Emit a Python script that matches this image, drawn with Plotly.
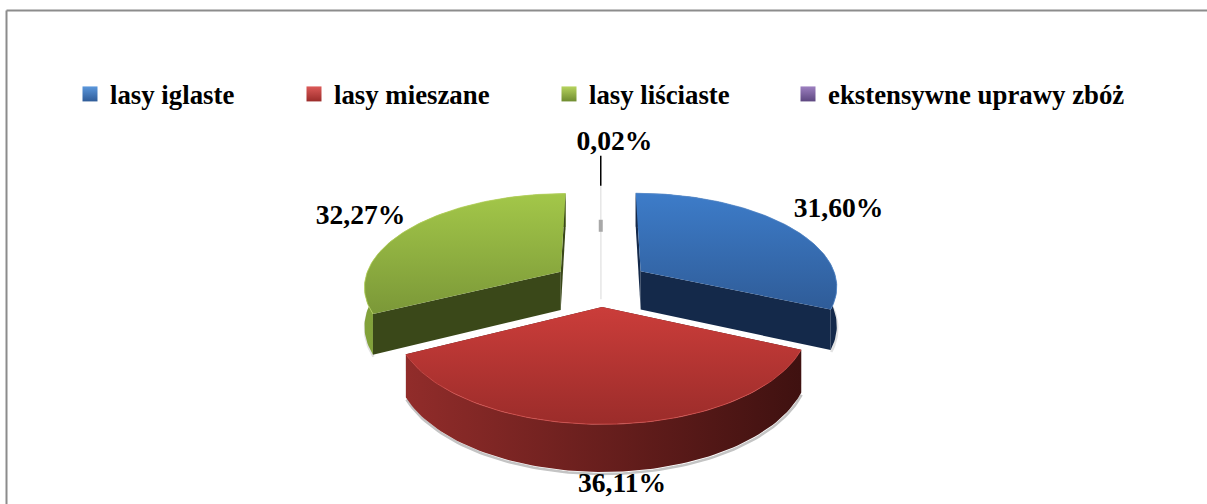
import numpy as np
import plotly.graph_objects as go

# ---- data ----
categories = ["lasy iglaste", "lasy mieszane", "lasy liściaste", "ekstensywne uprawy zbóż"]
shares = [31.60, 36.11, 32.27, 0.02]
share_labels = ["31,60%", "36,11%", "32,27%", "0,02%"]

# ---- styling and layout ----
W, H = 1207, 504
CX, CY, A, B, K, EXPLODE, DEPTH = 601, 283.5, 197, 92.7, 0.145, 0.245, 39
FONT = "Liberation Serif"
TOP = [["#2f5c98", "#3d7cc9"], ["#9b2c2a", "#cb3d3a"], ["#7b9838", "#a3c749"], ["#5d4780", "#7d60a0"]]
RIM = [["#14294a", "#14294a"], ["#912c2a", "#3f1110"], ["#82a23a", "#6f8c30"], ["#aaaaaa", "#aaaaaa"]]
CHORD = ["#14294a", "#4a1513", "#3a4819", "#aaaaaa"]
EDGE = ["#5b8fd0", "#d4524f", "#b6d35e", "#dddddd"]
SHADOW = ["#e2e2e2", "#c4c4c4", "#e2e2e2", "#e2e2e2"]
MARK = [("#2f5c98", "#5b97dc"), ("#9b2c2a", "#dc5a58"), ("#6f8c30", "#b6d35e"), ("#5d4780", "#9d80c0")]
LABEL_POS = [(838.5, 210.5), (622, 485.5), (360.5, 217.5), (614.5, 143.5)]
LEGEND_X = [70, 294, 549, 788]
DRAW_ORDER = [3, 2, 0, 1]


def project(u, v, z=0.0):
    s = 1 / (1 + K * v)
    return CX + A * u * s, CY - B * v * s + z * DEPTH * s


def slice_geometry(i):
    total = sum(shares)
    a0 = 2 * np.pi * sum(shares[:i]) / total
    a1 = 2 * np.pi * sum(shares[:i + 1]) / total
    mid = (a0 + a1) / 2
    ox, oy = EXPLODE * np.sin(mid), EXPLODE * np.cos(mid)
    t = np.linspace(a0, a1, 90)
    return ox, oy, ox + np.sin(t), oy + np.cos(t)


def poly(fig, x, y, colors, kind="vertical"):
    stops = [[0, colors[0]], [1, colors[1]]]
    fig.add_trace(go.Scatter(
        x=list(x), y=list(y), mode="lines", line=dict(width=0), fill="toself",
        fillgradient=dict(type=kind, colorscale=stops), hoverinfo="skip", showlegend=False))


def seg(fig, x, y, color, width):
    fig.add_trace(go.Scatter(x=list(x), y=list(y), mode="lines", line=dict(color=color, width=width),
                             hoverinfo="skip", showlegend=False))


fig = go.Figure()
for i in DRAW_ORDER:
    ox, oy, ru, rv = slice_geometry(i)
    rx, ry = project(ru, rv)
    bx, by = project(ru, rv, 1)
    ax, ay = project(ox, oy)
    abx, aby = project(ox, oy, 1)
    if shares[i] < 1:
        # almost empty slice: only a hairline survives
        seg(fig, [rx[0], ax, abx], [ry[0], ay, aby], "#e6e6e6", 1.5)
        seg(fig, [bx[0], bx[0]], [by[0] + 1, by[0] + 13], "#a8a8a8", 4)
        seg(fig, [rx[0], rx[0]], [ry[0], ry[0] - 30], "#000000", 1.5)
        continue
    seg(fig, bx + 0.5, by + 2, SHADOW[i], 2.5)
    front_facing = oy < -0.5 * EXPLODE
    if not front_facing:
        poly(fig, np.r_[rx, bx[::-1]], np.r_[ry, by[::-1]], RIM[i], "horizontal")
    for k in (0, -1):
        poly(fig, [ax, rx[k], bx[k], abx], [ay, ry[k], by[k], aby], [CHORD[i], CHORD[i]])
    if front_facing:
        poly(fig, np.r_[rx, bx[::-1]], np.r_[ry, by[::-1]], RIM[i], "horizontal")
    poly(fig, np.r_[ax, rx], np.r_[ay, ry], TOP[i])
    seg(fig, rx, ry, EDGE[i], 0.8)

for i, name in enumerate(categories):
    fig.add_trace(go.Scatter(
        x=[None], y=[None], mode="markers", name=name,
        legend="legend" if i == 0 else f"legend{i + 1}",
        marker=dict(symbol="square", size=15, color=MARK[i][1], line=dict(width=0),
                    gradient=dict(type="vertical", color=MARK[i][0]))))

fig.add_trace(go.Scatter(
    x=[p[0] for p in LABEL_POS], y=[p[1] for p in LABEL_POS], text=share_labels, mode="text",
    textposition="middle center", textfont=dict(family=FONT, size=27.6, color="#000000"),
    texttemplate="<b>%{text}</b>", hoverinfo="skip", showlegend=False))

legends = {}
for i, lx in enumerate(LEGEND_X):
    legends["legend" if i == 0 else f"legend{i + 1}"] = dict(
        x=lx / W, y=1 - 94 / H, xanchor="left", yanchor="middle", orientation="h",
        bgcolor="rgba(0,0,0,0)", font=dict(family=FONT, size=26.8, color="#000000", weight="bold"))

fig.update_layout(
    width=W, height=H, margin=dict(l=0, r=0, t=0, b=0), autosize=False,
    paper_bgcolor="#ffffff", plot_bgcolor="#ffffff",
    xaxis=dict(range=[0, W], visible=False, fixedrange=True),
    yaxis=dict(range=[H, 0], visible=False, fixedrange=True),
    shapes=[
        dict(type="line", xref="paper", yref="paper", x0=6.5 / W, x1=1, y0=1 - 10.5 / H, y1=1 - 10.5 / H,
             line=dict(color="#8c8c8c", width=2)),
        dict(type="line", xref="paper", yref="paper", x0=6.5 / W, x1=6.5 / W, y0=0, y1=1 - 10.5 / H,
             line=dict(color="#8c8c8c", width=2)),
    ],
    **legends)
fig.write_html("out.html", config=dict(displayModeBar=False),
               post_script="document.body.style.margin='0';document.body.style.overflow='hidden';")
